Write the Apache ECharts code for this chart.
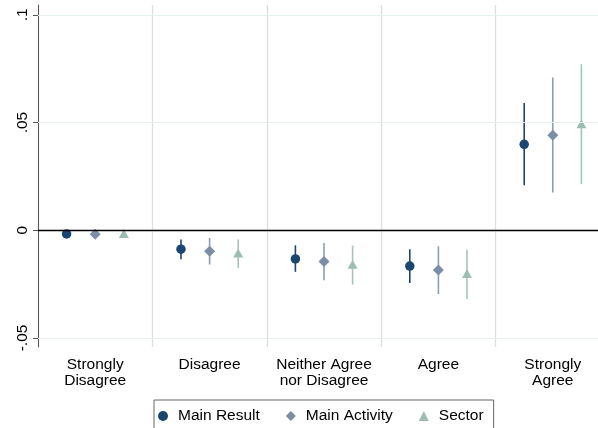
<!DOCTYPE html>
<html>
<head>
<meta charset="utf-8">
<script src="https://cdn.jsdelivr.net/npm/echarts@6/dist/echarts.min.js"></script>
<style>
html,body{margin:0;padding:0;background:#fff;overflow:hidden;}
#chart{width:598px;height:428px;}
</style>
</head>
<body>
<div id="chart"></div>
<script>
const categories = ['Strongly\nDisagree', 'Disagree', 'Neither Agree\nnor Disagree', 'Agree', 'Strongly\nAgree'];
const yTickValues = [-0.05, 0, 0.05, 0.1];

const mainResultEst = [-0.0017, -0.0088, -0.0133, -0.0166, 0.0399];
const mainResultLo  = [-0.0029, -0.0135, -0.0193, -0.0245, 0.0209];
const mainResultHi  = [-0.0005, -0.0043, -0.0070, -0.0088, 0.0591];

const mainActivityEst = [-0.0019, -0.0097, -0.0145, -0.0184, 0.0441];
const mainActivityLo  = [-0.0032, -0.0159, -0.0232, -0.0296, 0.0175];
const mainActivityHi  = [-0.0006, -0.0036, -0.0059, -0.0074, 0.0709];

const sectorEst = [-0.0015, -0.0105, -0.0158, -0.0201, 0.0495];
const sectorLo  = [-0.0028, -0.0175, -0.0252, -0.0319, 0.0214];
const sectorHi  = [-0.0002, -0.0043, -0.0071, -0.0090, 0.0771];

const seriesDefs = [
  {name: 'Main Result', est: mainResultEst, lo: mainResultLo, hi: mainResultHi, offset: -0.25, color: '#1a476f', bar: '#1a476f', symbol: 'circle', size: 9.5},
  {name: 'Main Activity', est: mainActivityEst, lo: mainActivityLo, hi: mainActivityHi, offset: 0, color: '#7a8fa6', bar: '#8b9fb4', symbol: 'diamond', size: 11},
  {name: 'Sector', est: sectorEst, lo: sectorLo, hi: sectorHi, offset: 0.25, color: '#9dbfb1', bar: '#a6c4b8', symbol: 'triangle', size: [10, 9]}
];

const FONT = 'Liberation Sans, Arial, Helvetica, sans-serif';
const chart = echarts.init(document.getElementById('chart'), null, {renderer: 'canvas'});

const series = [];
seriesDefs.forEach(function (d) {
  series.push({
    type: 'custom',
    name: d.name + ' CI',
    xAxisIndex: 1,
    z: 2,
    silent: true,
    clip: false,
    data: d.est.map(function (v, i) { return [i + 1 + d.offset, d.lo[i], d.hi[i]]; }),
    renderItem: function (params, api) {
      const p1 = api.coord([api.value(0), api.value(1)]);
      const p2 = api.coord([api.value(0), api.value(2)]);
      return {type: 'line', shape: {x1: p1[0], y1: p1[1], x2: p2[0], y2: p2[1]}, style: {stroke: d.bar, lineWidth: 1.6}};
    }
  });
});
seriesDefs.forEach(function (d) {
  series.push({
    type: 'scatter',
    name: d.name,
    xAxisIndex: 1,
    z: 3,
    symbol: d.symbol,
    symbolSize: d.size,
    itemStyle: {color: d.color, opacity: 1},
    data: d.est.map(function (v, i) { return [i + 1 + d.offset, v]; })
  });
});
// reference lines
series.push({
  type: 'line',
  xAxisIndex: 1,
  data: [],
  z: 1,
  markLine: {
    silent: true,
    symbol: 'none',
    label: {show: false},
    data: yTickValues.filter(function (v) { return v !== 0; }).map(function (v) {
      return {yAxis: v, lineStyle: {color: '#e6eff0', width: 1.2, type: 'solid'}};
    }).concat([{yAxis: 0, lineStyle: {color: '#000', width: 1.3, type: 'solid'}}])
  }
});

chart.setOption({
  animation: false,
  backgroundColor: '#fff',
  grid: {left: 38, width: 572, top: 5, height: 342, containLabel: false, outerBoundsMode: 'none'},
  legend: {
    left: 154,
    top: 400,
    padding: [8, 10, 18, 4],
    borderColor: '#666',
    borderWidth: 1,
    itemWidth: 10,
    itemHeight: 10,
    itemGap: 26,
    data: [
      {name: 'Main Result', icon: 'circle', itemStyle: {color: '#1a476f'}},
      {name: 'Main Activity', icon: 'diamond', itemStyle: {color: '#7a8fa6'}},
      {name: 'Sector', icon: 'triangle', itemStyle: {color: '#9dbfb1'}}
    ],
    textStyle: {fontFamily: FONT, fontSize: 15.5, color: '#000', padding: [0, 0, 0, 5]}
  },
  xAxis: [
    {
      type: 'category',
      data: categories,
      boundaryGap: true,
      axisLine: {lineStyle: {color: '#555', width: 1}},
      axisTick: {alignWithLabel: true, length: 5, lineStyle: {color: '#555'}},
      axisLabel: {fontFamily: FONT, fontSize: 15.5, color: '#000', lineHeight: 16, margin: 10, interval: 0},
      splitLine: {show: true, lineStyle: {color: '#dedede', width: 1.3}}
    },
    {
      type: 'value',
      min: 0.5,
      max: 5.5,
      show: false
    }
  ],
  yAxis: {
    type: 'value',
    min: -0.0542,
    max: 0.1046,
    axisLine: {show: true, lineStyle: {color: '#555', width: 1}},
    axisTick: {show: true, length: 5, customValues: yTickValues, lineStyle: {color: '#555'}},
    axisLabel: {
      customValues: yTickValues,
      rotate: 90,
      margin: 7,
      fontFamily: FONT,
      fontSize: 15.5,
      color: '#000',
      formatter: function (v) {
        if (Math.abs(v) < 1e-9) return '0';
        return String(Math.round(v * 1000) / 1000).replace('0.', '.');
      }
    },
    splitLine: {show: false}
  },
  series: series
});
</script>
</body>
</html>
